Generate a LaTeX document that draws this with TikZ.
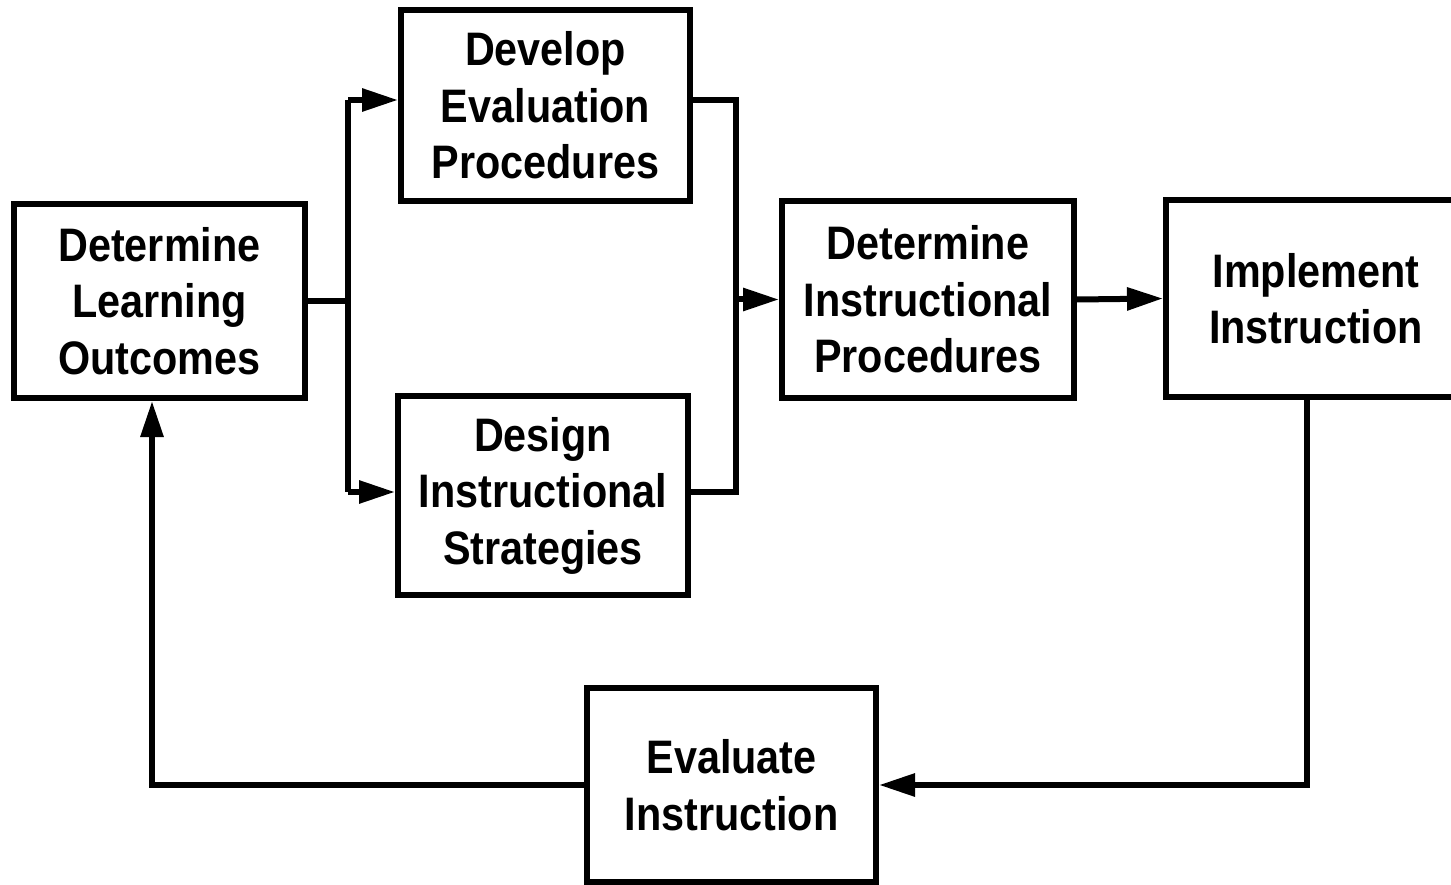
\documentclass[tikz,border=0pt]{standalone}
\usepackage{fontspec}
\setmainfont{Liberation Sans}[FakeStretch=0.88]
\usetikzlibrary{arrows.meta}
\tikzset{
  box/.style={draw, line width=6pt, rectangle, align=center, inner sep=0pt,
    font=\fontsize{47pt}{56.5pt}\selectfont\bfseries},
  conn/.style={line width=6pt},
  arr/.style={conn, -{Triangle[length=36pt,width=22pt]}},
}
\begin{document}
\begin{tikzpicture}[x=1pt,y=-1pt]
\useasboundingbox (0,0) rectangle (1451,885);
\begin{scope}
\clip (0,0) rectangle (1451,885);
\node[box, minimum width=291pt, minimum height=194pt] (dlo) at (159.5,301) {Determine\\Learning\\Outcomes};
\node[box, minimum width=289pt, minimum height=191pt] (dep) at (545.5,105.5) {Develop\\Evaluation\\Procedures};
\node[box, minimum width=290pt, minimum height=199pt] (dis) at (543,495.5) {Design\\Instructional\\Strategies};
\node[box, minimum width=292pt, minimum height=197pt] (dip) at (928,299.5) {Determine\\Instructional\\Procedures};
\node[box, minimum width=298pt, minimum height=197pt, text width=300pt] (imp) at (1316,298.5) {Implement\\Instruction};
\node[box, minimum width=289pt, minimum height=194pt] (evi) at (731.5,785) {Evaluate\\Instruction};
\end{scope}
\coordinate (sa) at (348,100);
\coordinate (sb) at (348,492);
\coordinate (ja) at (736,100);
\coordinate (jb) at (736,492);
\coordinate (c1) at (1307,785);
\coordinate (c2) at (152,785);
\draw[conn] (dlo.east) -- (dlo.east -| sa);
\draw[conn] (sa) -- (sb);
\draw[arr] (sa) -- (sa -| dep.west);
\draw[arr] (sb) -- (sb -| dis.west);
\draw[conn] (ja -| dep.east) -- (ja) -- (jb) -- (jb -| dis.east);
\draw[arr] (ja |- dip.west) -- (dip.west);
\draw[arr] (dip.east) -- (imp.west);
\draw[arr] (c1 |- imp.south) -- (c1) -- (evi.east);
\draw[arr] (evi.west) -- (c2) -- (c2 |- dlo.south);
\end{tikzpicture}
\end{document}
